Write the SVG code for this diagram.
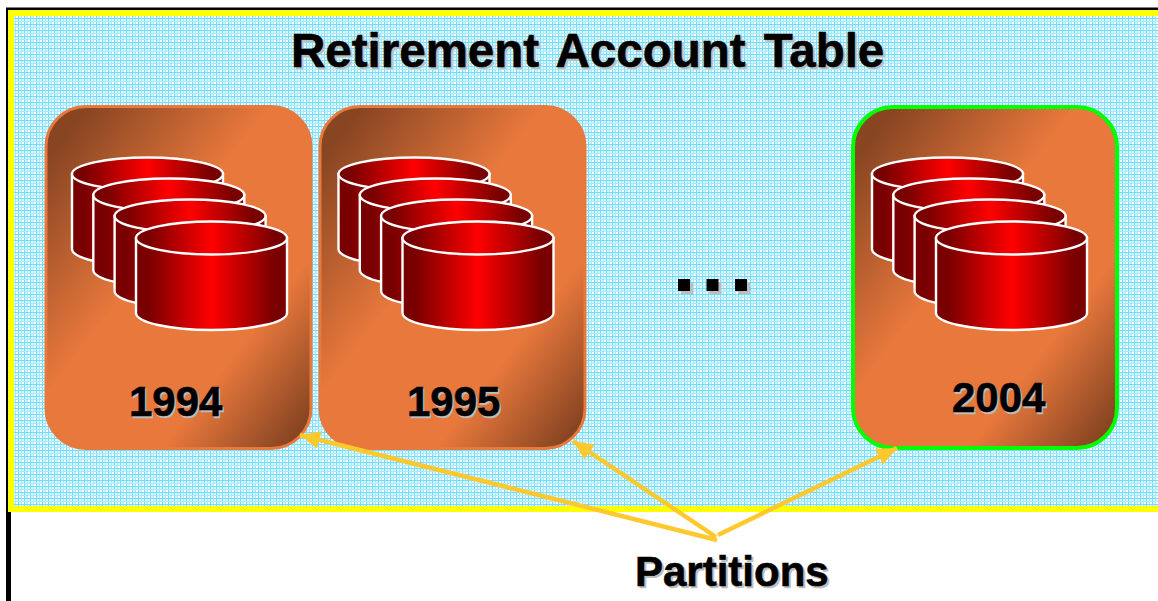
<svg xmlns="http://www.w3.org/2000/svg" xmlns:xlink="http://www.w3.org/1999/xlink" width="1158" height="601" viewBox="0 0 1158 601">
<style>
text{font-family:"Liberation Sans",Arial,sans-serif;font-weight:700;fill:#000;stroke:#000;stroke-width:.6px}
text.s{fill:#bdbdbd;stroke:#bdbdbd}
.t{font-size:47.500px;word-spacing:5px}.y{font-size:42px}.p{font-size:42px}
.c{stroke:#fff;stroke-width:2.400}
.cn{fill:none;stroke:#ffc82d;stroke-width:4.500}
</style>
<defs>
<pattern id="grid" width="6" height="6" patternUnits="userSpaceOnUse">
<rect width="6" height="6" fill="#d4f5ff"/>
<rect x="0" width="1" height="6" fill="#72deff"/><rect x="3" width="1" height="6" fill="#a8ebff"/>
<rect y="0" width="6" height="1" fill="#72deff"/><rect y="3" width="6" height="1" fill="#a8ebff"/>
<rect x="1" y="1" width="2" height="2" fill="#f2fcff"/><rect x="4" y="4" width="2" height="2" fill="#fff"/>
</pattern>
<linearGradient id="card" x1="0" y1="0" x2="1" y2="1" gradientUnits="objectBoundingBox">
<stop offset=".08" stop-color="#884522"/><stop offset=".42" stop-color="#e8783c"/><stop offset=".72" stop-color="#e8783c"/><stop offset=".95" stop-color="#884522"/>
</linearGradient>
<linearGradient id="red" x1="0" x2="1" y1="0" y2="0">
<stop offset=".08" stop-color="#780000"/><stop offset=".5" stop-color="#f00"/><stop offset=".92" stop-color="#780000"/>
</linearGradient>
<marker id="a" markerUnits="userSpaceOnUse" markerWidth="22" markerHeight="18" refX="20" refY="9" orient="auto"><path d="M0 0L20 9L0 18z" fill="#ffc82d"/></marker>
<g id="cyl"><path class="c" fill="url(#red)" d="M0 0V75A75.500 17 0 0 0 151 75V0z"/><ellipse class="c" fill="url(#red)" cx="75.500" cy="0" rx="75.500" ry="16.500"/></g>
<g id="stack">
<use xlink:href="#cyl" x="872" y="174"/><use xlink:href="#cyl" x="893.300" y="195"/><use xlink:href="#cyl" x="914.600" y="216"/><use xlink:href="#cyl" x="936" y="238"/>
</g>
</defs>
<g id="background">
<rect width="1158" height="601" fill="#fff"/>
<rect x="6" y="7.500" width="1152" height="3" fill="#000"/>
<rect x="6" y="8" width="5" height="593" fill="#000"/>
<rect x="8" y="10" width="1150" height="502" fill="#ff0"/>
<rect x="14" y="16" width="1144" height="490" fill="url(#grid)"/>
</g>
<g id="title"><text class="t s" x="293" y="69">Retirement Account Table</text><text class="t" x="291" y="67">Retirement Account Table</text></g>
<g id="node-1994">
<rect x="46" y="106.500" width="265" height="342" rx="40" fill="url(#card)" stroke="#e8783c" stroke-width="3"/>
<use xlink:href="#stack" x="-800"/>
<text class="y s" x="130.500" y="417.500">1994</text><text class="y" x="129" y="416">1994</text>
</g>
<g id="node-1995">
<rect x="320" y="106.500" width="265" height="342" rx="40" fill="url(#card)" stroke="#e8783c" stroke-width="3"/>
<use xlink:href="#stack" x="-533.500"/>
<text class="y s" x="408.500" y="417.500">1995</text><text class="y" x="407" y="416">1995</text>
</g>
<g id="node-2004">
<rect x="853" y="107" width="264" height="341" rx="40" fill="url(#card)" stroke="#0f0" stroke-width="4"/>
<use xlink:href="#stack"/>
<text class="y s" x="953.500" y="413.500">2004</text><text class="y" x="952" y="412">2004</text>
</g>
<g id="ellipsis" fill="#000">
<rect x="681" y="282" width="12" height="12" fill="#bdbdbd"/><rect x="709.500" y="282" width="12" height="12" fill="#bdbdbd"/><rect x="738" y="282" width="12" height="12" fill="#bdbdbd"/>
<rect x="678" y="279" width="12" height="12"/><rect x="706.500" y="279" width="12" height="12"/><rect x="735" y="279" width="12" height="12"/>
</g>
<g id="connectors">
<path class="cn" marker-end="url(#a)" d="M717 540L300 435"/>
<path class="cn" marker-end="url(#a)" d="M716 537L573 441"/>
<path class="cn" marker-end="url(#a)" d="M718 535L897 448"/>
</g>
<g id="label"><text class="p s" x="637" y="588">Partitions</text><text class="p" x="635" y="586">Partitions</text></g>
</svg>
